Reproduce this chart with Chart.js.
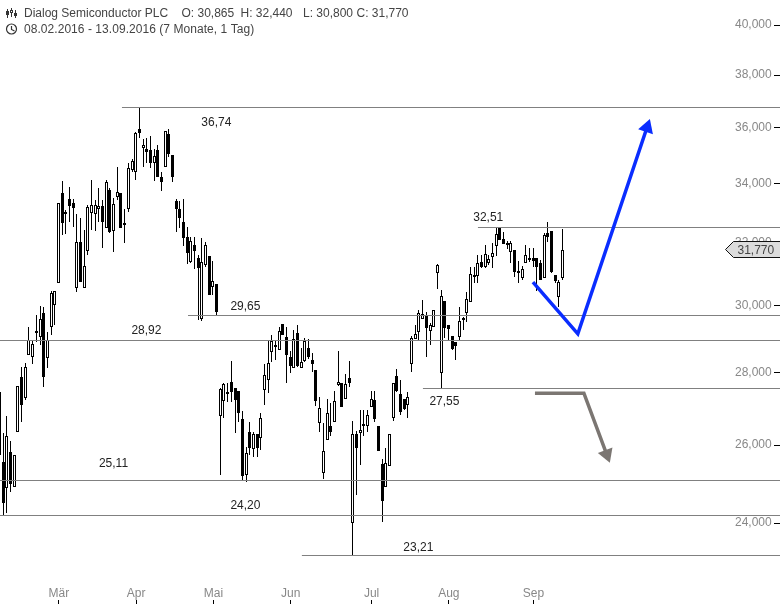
<!DOCTYPE html>
<html><head><meta charset="utf-8">
<style>html,body{margin:0;padding:0;background:#fff}canvas{display:block}</style>
<script src="https://cdn.jsdelivr.net/npm/chart.js@4"></script>
</head><body><canvas id="c" width="780" height="604"></canvas>
<script>
const open=[27.45,25.55,24.88,25.81,24.90,26.35,27.88,27.29,28.51,28.46,
29.23,29.05,29.77,28.43,29.35,30.01,30.70,33.67,33.02,33.46,
33.33,30.54,32.02,30.54,31.72,32.99,32.95,33.12,33.22,32.48,
33.77,32.38,33.53,33.67,32.65,33.12,34.47,34.40,35.96,35.26,
35.22,35.19,34.72,35.19,34.22,34.58,35.77,35.01,33.39,33.12,
32.68,32.18,31.37,31.92,31.50,29.59,31.27,31.56,30.58,30.67,
26.79,27.20,27.45,27.74,27.56,27.48,26.70,25.21,26.35,25.89,
26.29,26.18,27.51,27.79,28.60,28.81,28.66,29.44,29.05,28.46,
28.14,29.17,28.14,28.34,28.72,28.37,28.08,26.59,25.26,26.13,
26.51,26.62,27.65,27.71,27.26,27.85,24.01,26.29,26.32,26.57,
26.51,27.04,27.23,26.51,25.49,24.90,25.44,26.73,27.91,27.40,
27.26,27.09,28.25,28.99,29.20,29.59,29.68,29.23,29.35,31.02,
28.00,30.14,29.41,29.08,28.90,29.05,29.62,29.77,30.11,30.95,
30.92,31.37,31.20,31.34,31.53,31.89,32.51,32.12,31.98,31.69,
31.76,31.02,30.86,31.34,31.50,31.50,31.50,31.34,30.86,32.32,
32.38,30.95,30.26,30.865];
const high=[27.45,26.32,26.79,26.10,25.73,27.62,28.17,28.28,29.35,28.96,
29.71,29.98,29.95,29.20,30.45,30.45,33.33,34.09,33.09,33.88,
33.46,32.95,32.82,32.42,33.26,34.12,33.43,33.84,33.43,34.12,
33.84,33.50,34.58,33.67,33.12,34.72,34.87,35.85,36.74,35.59,
35.63,35.70,35.22,35.37,34.40,35.88,35.96,35.01,33.46,33.39,
33.46,32.52,32.18,32.18,31.59,32.15,32.02,31.56,31.40,30.67,
27.56,27.71,27.71,28.34,27.56,27.48,26.92,25.95,26.62,26.35,
26.29,26.87,28.25,28.93,29.11,28.93,29.35,29.44,29.35,28.63,
29.26,29.41,28.72,29.02,28.99,28.57,28.08,27.31,26.59,27.26,
27.15,27.48,28.63,27.71,27.97,28.34,26.65,26.37,26.95,26.95,
26.95,27.48,27.48,26.51,25.62,25.92,26.29,27.71,28.11,27.79,
27.26,27.45,29.08,29.41,29.86,30.17,29.80,29.47,29.86,31.30,
30.48,30.14,29.41,29.08,28.90,29.95,29.65,30.42,31.20,31.20,
31.59,31.59,31.92,31.59,31.98,32.48,32.51,32.35,32.05,32.05,
31.76,31.40,31.24,31.92,31.82,31.82,31.50,31.43,32.32,32.68,
32.38,30.95,30.80,32.44];
const low=[25.34,24.20,24.25,24.78,24.90,26.35,26.62,27.23,28.51,28.25,
28.90,28.81,27.59,28.14,29.11,29.41,30.70,32.25,32.28,32.68,
32.52,30.42,30.73,30.54,31.59,32.42,32.38,32.68,31.82,32.48,
32.32,31.69,33.43,32.48,31.98,33.02,34.40,34.12,35.63,34.58,
34.72,34.54,34.09,34.22,33.74,34.58,34.94,34.05,32.35,32.48,
31.89,31.30,31.34,31.14,29.56,29.53,31.20,30.32,30.32,29.71,
25.21,26.73,27.17,27.17,26.32,26.62,25.08,25.03,25.73,25.68,
25.68,25.87,27.09,27.42,28.31,28.37,28.66,29.11,27.71,28.00,
28.14,28.17,28.14,28.31,28.40,28.02,27.06,26.35,25.11,26.13,
26.24,26.62,27.62,27.04,27.26,27.59,23.21,24.70,25.47,26.24,
26.35,27.04,26.62,25.84,24.03,24.90,25.44,26.65,27.45,26.81,
26.95,26.73,28.02,28.99,28.96,29.59,28.46,28.81,29.35,30.51,
27.55,29.02,28.93,28.66,28.37,28.96,29.26,29.50,30.11,30.70,
30.70,31.17,31.17,31.27,31.17,31.56,32.08,31.95,31.79,31.34,
30.89,30.70,30.80,31.34,31.37,31.20,30.45,30.80,30.86,32.02,
31.02,30.70,29.95,30.80];
const close=[25.73,24.50,26.24,24.98,25.73,27.62,27.09,28.17,28.96,28.84,
29.17,29.59,27.88,28.96,30.39,30.45,33.33,32.65,32.99,33.22,
33.16,32.02,30.73,31.24,33.19,33.26,33.26,33.22,32.68,34.05,
32.35,33.29,33.70,32.48,32.58,34.54,34.79,35.81,35.81,35.37,
35.12,34.72,34.97,34.22,34.05,35.88,35.05,34.22,33.12,32.82,
32.15,31.66,32.05,31.72,31.17,31.37,31.92,30.32,30.76,29.80,
27.54,27.68,27.42,27.45,27.23,26.87,25.18,25.78,25.92,26.29,
25.92,26.73,27.94,28.28,28.93,28.75,29.23,29.11,28.51,28.20,
28.99,28.20,28.31,28.93,28.46,28.25,27.20,27.01,25.84,26.87,
26.35,27.20,27.74,27.04,27.68,27.71,26.29,25.92,26.40,26.51,
26.81,27.26,26.70,25.84,24.55,25.52,26.29,27.71,27.48,26.89,
26.98,27.31,29.02,29.14,29.77,29.74,29.32,29.41,29.86,31.27,
30.29,29.32,29.29,28.69,28.78,29.53,29.56,30.20,30.98,30.89,
31.34,31.20,31.63,31.46,31.66,32.28,32.08,31.95,31.92,31.98,
31.05,31.08,31.14,31.59,31.43,31.40,31.20,30.80,32.25,32.18,
31.05,30.76,30.73,31.77];
const monthNames=['Mär','Apr','Mai','Jun','Jul','Aug','Sep'];
const monthStarts=[16,37,58,79,101,122,145];
const tickValues=[24,26,28,30,32,34,36,38,40];
const levelValues=[36.74,32.51,29.65,28.92,27.55,25.11,24.20,23.21];
const levelLines=[36.74,32.51,29.68,28.95,27.55,25.08,24.19,23.21];
const levelStarts=[33.15,129.9,51.1,0,114.95,0,0,82.05];
const levelTextAt=[58.8,132.7,66.7,39.8,120.8,30.85,66.7,113.7];
const levelTextShift=[14.5,-9.5,-10,-11,13.5,-15.5,-9,-8];
const blueArrowX=[144.85,157.05,175.85];
const blueArrowY=[30.73,29.14,36.01];
const grayArrowX=[145.4,158.7,164.9];
const grayArrowY=[27.42,27.42,25.75];
const lastSlot=212;

const labels=[];
for(let i=0;i<=lastSlot;i++){const m=monthStarts.indexOf(i);labels.push(m>=0?monthNames[m]:'');}
const comma=(v,d)=>v.toFixed(d).replace('.',',');
const FONT='12px "Liberation Sans", Arial, sans-serif';
const noPad=(s)=>{s.paddingTop=0;s.paddingBottom=0;s.paddingLeft=0;s.paddingRight=0;};

const levelSets=levelLines.map((v,i)=>({type:'line',label:'level',xAxisID:'xa',yAxisID:'y',order:1,
  data:[{x:levelStarts[i],y:v},{x:lastSlot,y:v}],borderColor:'#808080',borderWidth:1,pointRadius:0,clip:false}));

const snap={id:'snap',afterDatasetsUpdate(chart){
  chart.getSortedVisibleDatasetMetas().forEach(m=>{
    if(m.type==='bar'){m.data.forEach(el=>{
      el.x=Math.floor(el.x-0.45)+0.5;el.y=Math.round(el.y);el.base=Math.round(el.base);
      if(Math.abs(el.y-el.base)<2)el.base=el.y+2;
    });}
    else if(m.controller.getDataset().label==='level'){m.data.forEach(el=>{el.y=Math.floor(el.y)+0.5;});}
  });
}};

const overlay={id:'overlay',afterDraw(chart){
  const c=chart.ctx,xs=chart.scales.xa,ys=chart.scales.y;
  c.save();
  c.font=FONT;c.textBaseline='middle';c.textAlign='center';c.fillStyle='#222';
  levelValues.forEach((v,i)=>{c.fillText(comma(v,2),xs.getPixelForValue(levelTextAt[i]),ys.getPixelForValue(v)+levelTextShift[i]);});
  // value-axis tick marks
  c.fillStyle='#000';
  tickValues.forEach(v=>{c.fillRect(774,Math.round(ys.getPixelForValue(v)-0.5),6,1);});
  // header
  c.textAlign='left';c.fillStyle='#444';
  c.fillText('Dialog Semiconductor PLC',24,14);
  c.fillText('O: 30,865',181.5,14);c.fillText('H: 32,440',240.5,14);
  c.fillText('L: 30,800',303,14);c.fillText('C: 31,770',356.5,14);
  if('letterSpacing' in c)c.letterSpacing='0.05px';
  c.fillText('08.02.2016 - 13.09.2016 (7 Monate, 1 Tag)',24,30);
  if('letterSpacing' in c)c.letterSpacing='0px';
  // icons
  c.strokeStyle='#333';c.lineWidth=1;
  [[7,9,18,11,15],[11,8,17,10,13],[15,10,18,13,16]].forEach((b,i)=>{
    c.beginPath();c.moveTo(b[0]+.5,b[1]);c.lineTo(b[0]+.5,b[2]);c.stroke();
    if(i==1){c.fillStyle='#fff';}else{c.fillStyle='#333';}
    c.fillRect(b[0]-1,b[3],3,b[4]-b[3]);c.strokeRect(b[0]-.5,b[3]+.5,2,b[4]-b[3]-1);
  });
  c.lineWidth=1.2;c.beginPath();c.arc(11.5,29,5,0,Math.PI*2);c.stroke();
  c.beginPath();c.moveTo(11.5,26);c.lineTo(11.5,29.5);c.lineTo(14.5,31);c.stroke();
  // price tag
  const last=close[close.length-1],py=Math.round(ys.getPixelForValue(last));
  c.lineWidth=1;c.beginPath();c.moveTo(725.5,py-.5);c.lineTo(733.5,py-8.5);c.lineTo(781,py-8.5);c.lineTo(781,py+7.5);c.lineTo(733.5,py+7.5);c.closePath();
  c.fillStyle='#dcdcdc';c.fill();c.strokeStyle='#111';c.stroke();
  c.fillStyle='#444';c.textAlign='left';c.fillText(comma(last,3),737.5,py+1);
  c.restore();
}};

new Chart(document.getElementById('c'),{
  type:'bar',
  data:{labels,datasets:[
    ...levelSets,
    {type:'line',label:'blue',xAxisID:'xa',yAxisID:'y',order:0,data:blueArrowX.map((x,i)=>({x,y:blueArrowY[i]})),
     borderColor:'#0a2dff',borderWidth:3.5,pointRadius:[0,0,9],pointStyle:'triangle',pointRotation:18.8,pointBackgroundColor:'#0a2dff',pointBorderWidth:0,borderJoinStyle:'miter'},
    {type:'line',label:'gray',xAxisID:'xa',yAxisID:'y',order:0,data:grayArrowX.map((x,i)=>({x,y:grayArrowY[i]})),
     borderColor:'#7b7672',borderWidth:3.5,pointRadius:[0,0,9],pointStyle:'triangle',pointRotation:159.6,pointBackgroundColor:'#7b7672',pointBorderWidth:0,borderJoinStyle:'miter'},
    {label:'body',order:2,grouped:false,barThickness:3,data:open.map((o,i)=>[o,close[i]]),
     backgroundColor:ctx=>close[ctx.dataIndex]>=open[ctx.dataIndex]?'#fff':'#000',borderColor:'#000',borderWidth:1,borderSkipped:false,inflateAmount:0},
    {label:'wick',order:3,grouped:false,barThickness:1,data:low.map((l,i)=>[l,high[i]]),
     backgroundColor:'#000',borderWidth:0,borderSkipped:false,inflateAmount:0}
  ]},
  options:{
    responsive:false,animation:false,
    layout:{autoPadding:false,padding:{left:0,top:0,bottom:0,right:-0.16}},
    plugins:{legend:{display:false},tooltip:{enabled:false},title:{display:false}},
    events:[],
    scales:{
      x:{type:'category',offset:false,position:'bottom',
        grid:{offset:false,drawOnChartArea:false,drawTicks:true,tickLength:-4,tickColor:'#000'},border:{display:false},
        afterFit(s){s.height=0;noPad(s);},
        afterBuildTicks(s){s.ticks=s.ticks.filter(t=>labels[t.value]!=='');},
        ticks:{autoSkip:false,maxRotation:0,mirror:true,padding:3.5,color:'#888',font:{family:'"Liberation Sans", Arial, sans-serif',size:12}}},
      xa:{type:'linear',display:false,offset:false,min:0,max:lastSlot,position:'bottom',afterFit(s){noPad(s);}},
      y:{type:'logarithmic',position:'right',bounds:'data',offset:false,min:22.088,max:41.039,
        grid:{display:false},border:{display:false},
        afterFit(s){s.width=0;noPad(s);},
        afterBuildTicks(s){s.ticks=tickValues.map(v=>({value:v}));},
        ticks:{autoSkip:false,mirror:true,padding:-8.3,color:'#888',font:{family:'"Liberation Sans", Arial, sans-serif',size:12},callback:v=>comma(v,3)}}
    }
  },
  plugins:[snap,overlay]
});
</script></body></html>
